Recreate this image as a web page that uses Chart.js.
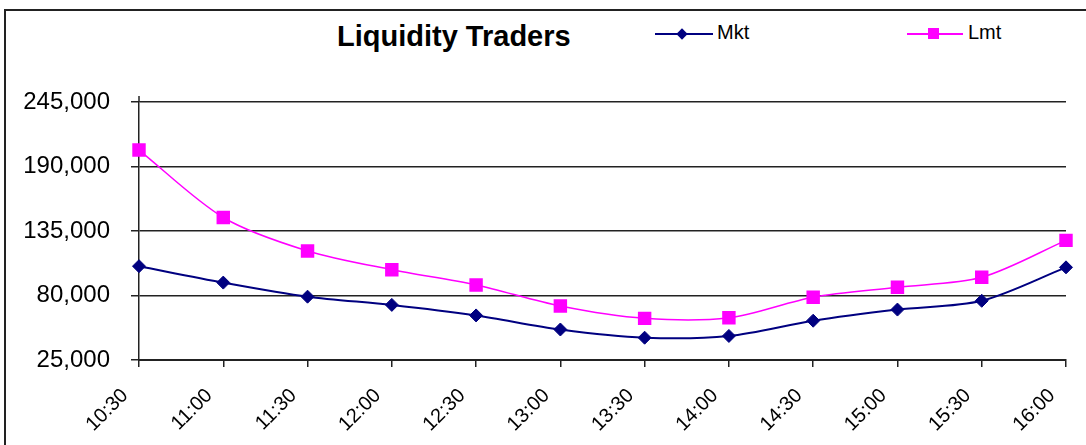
<!DOCTYPE html>
<html>
<head>
<meta charset="utf-8">
<script src="https://cdn.jsdelivr.net/npm/chart.js@4.4.1/dist/chart.umd.min.js"></script>
<style>
  html, body { margin: 0; padding: 0; background: #fff; }
  #wrap { position: relative; width: 1086px; height: 445px; overflow: hidden; font-family: Arial, "Liberation Sans", sans-serif; }
  #frame { position: absolute; left: 4px; top: 9px; width: 1200px; height: 600px; border: 2px solid #222; box-sizing: border-box; }
  #title { position: absolute; left: 337px; top: 20px; font-size: 29px; font-weight: bold; color: #000; white-space: nowrap; }
  .leg { position: absolute; top: 20px; height: 30px; font-size: 20px; color: #000; white-space: nowrap; }
  .leg .ln { position: absolute; top: 13px; height: 2px; }
  .leg .mk { position: absolute; }
  #chart { position: absolute; left: 0; top: 0; }
</style>
</head>
<body>
<div id="wrap">
  <div id="frame"></div>
  <div id="title">Liquidity Traders</div>
  <div class="leg" style="left:655px; width:100px;">
    <div class="ln" style="left:0; width:58px; background:#000080;"></div>
    <div class="mk" style="left:23px; top:10px; width:8px; height:8px; background:#000080; transform:rotate(45deg);"></div>
    <span style="position:absolute; left:62px; top:1px;">Mkt</span>
  </div>
  <div class="leg" style="left:907px; width:110px;">
    <div class="ln" style="left:0; width:56px; background:#ff00ff;"></div>
    <div class="mk" style="left:21px; top:8px; width:11px; height:11px; background:#ff00ff;"></div>
    <span style="position:absolute; left:61px; top:1px;">Lmt</span>
  </div>
  <canvas id="chart" width="1086" height="445"></canvas>
</div>
<script>
// Half-hour time buckets
const times = ['10:30', '11:00', '11:30', '12:00', '12:30', '13:00', '13:30', '14:00', '14:30', '15:00', '15:30', '16:00'];
// Market order volume
const mktValues = [105000, 91000, 79000, 72000, 63000, 51000, 44000, 45500, 58500, 68000, 75500, 104000];
// Limit order volume
const lmtValues = [204000, 146500, 118000, 102000, 89000, 71000, 60500, 61000, 78500, 87000, 95500, 127000];
// Value axis ticks
const yTicks = [25000, 80000, 135000, 190000, 245000];

const axisColor = '#222';
const fontFamily = 'Arial, "Liberation Sans", sans-serif';

// Short extension of the value axis above the top gridline
const axisCap = {
  id: 'axisCap',
  afterDraw(chart) {
    const { ctx, chartArea } = chart;
    ctx.save();
    ctx.strokeStyle = axisColor;
    ctx.lineWidth = 1.5;
    ctx.beginPath();
    ctx.moveTo(chartArea.left, chartArea.top - 6);
    ctx.lineTo(chartArea.left, chartArea.top);
    ctx.stroke();
    ctx.restore();
  }
};

new Chart(document.getElementById('chart'), {
  type: 'line',
  data: {
    labels: times,
    datasets: [
      {
        label: 'Mkt',
        data: mktValues,
        borderColor: '#000080',
        backgroundColor: '#000080',
        borderWidth: 2,
        pointStyle: 'rectRot',
        pointRadius: 6.5,
        pointBorderWidth: 1,
        tension: 0.3
      },
      {
        label: 'Lmt',
        data: lmtValues,
        borderColor: '#ff00ff',
        backgroundColor: '#ff00ff',
        borderWidth: 1.5,
        pointStyle: 'rect',
        pointRadius: 9.5,
        pointBorderWidth: 0,
        tension: 0.3
      }
    ]
  },
  options: {
    responsive: false,
    animation: false,
    layout: { padding: { top: 102, right: 20, left: 0, bottom: 0 } },
    plugins: {
      legend: { display: false },
      title: { display: false },
      tooltip: { enabled: false }
    },
    scales: {
      x: {
        offset: false,
        afterFit(scale) {
          scale.height = 85;
          scale.paddingLeft = 0;
          scale.paddingRight = 0;
        },
        grid: { drawOnChartArea: false, drawTicks: true, tickLength: 7, color: axisColor, lineWidth: 1.5 },
        border: { display: true, color: axisColor, width: 2 },
        ticks: {
          minRotation: 45, maxRotation: 45, autoSkip: false, padding: 17, labelOffset: -14,
          color: '#000', font: { family: fontFamily, size: 20 }
        }
      },
      y: {
        min: 25000,
        max: 245000,
        afterFit(scale) {
          scale.width = 139;
          scale.paddingTop = 0;
          scale.paddingBottom = 0;
        },
        afterBuildTicks(scale) { scale.ticks = yTicks.map(v => ({ value: v })); },
        grid: { color: axisColor, lineWidth: 1.5, tickLength: 8, drawTicks: true },
        border: { display: true, color: axisColor, width: 1.5 },
        ticks: {
          padding: 21,
          color: '#000',
          font: { family: fontFamily, size: 24 },
          callback: v => v.toLocaleString('en-US')
        }
      }
    }
  },
  plugins: [axisCap]
});
</script>
</body>
</html>
